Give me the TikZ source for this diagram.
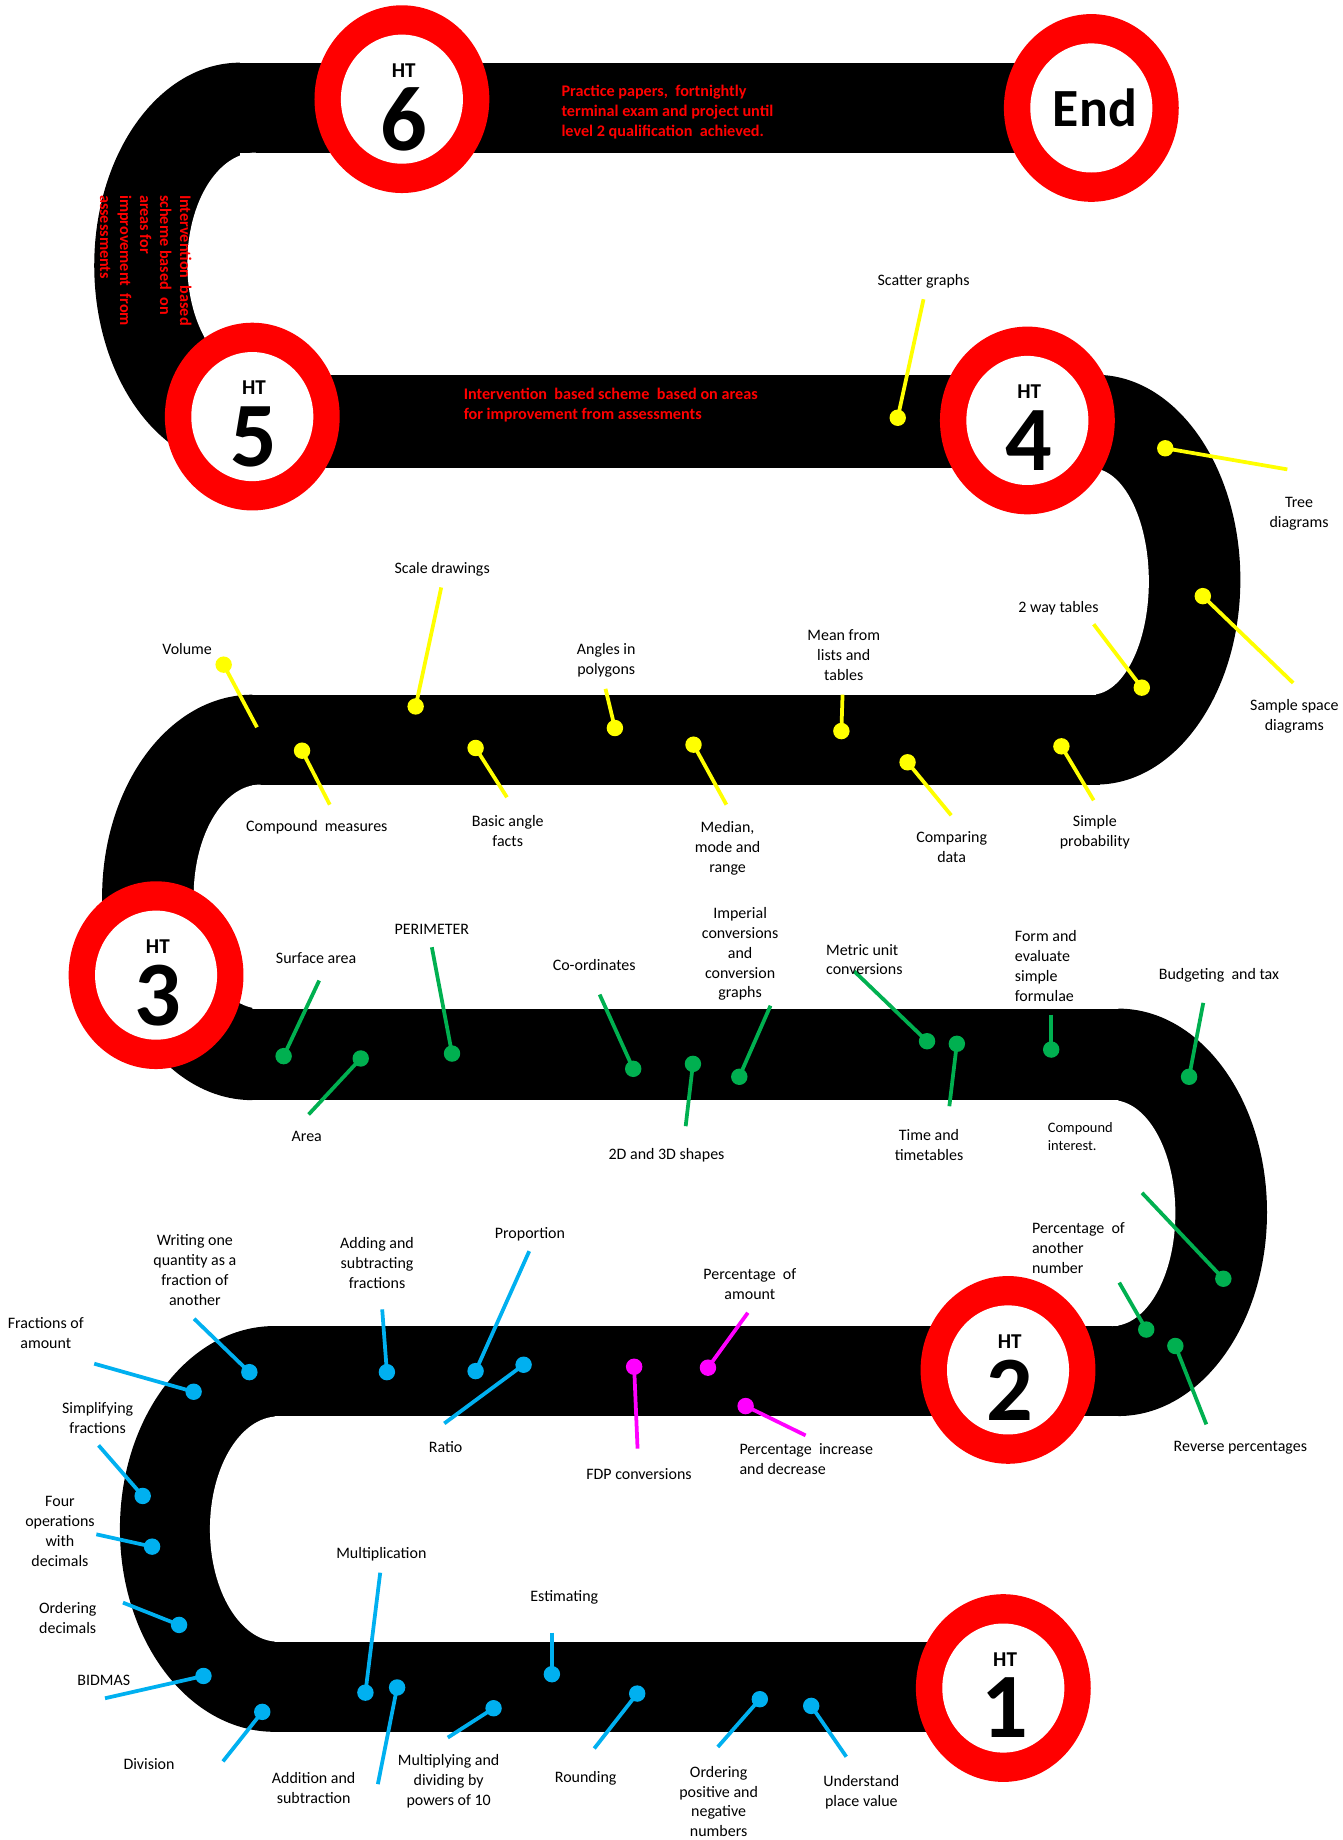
\documentclass[tikz,border=0pt]{standalone}
\usepackage{fontspec}
\setmainfont{Carlito}
\definecolor{yel}{RGB}{255,255,0}
\definecolor{grn}{RGB}{0,176,80}
\definecolor{blu}{RGB}{0,176,240}
\definecolor{mag}{RGB}{255,0,255}
\definecolor{rd}{RGB}{255,0,0}
\tikzset{
  lbl/.style={font=\fontsize{13.6}{17}\selectfont, align=center, inner sep=0pt, text=black},
  smalllbl/.style={font=\fontsize{12.3}{15.4}\selectfont},
  conn/.style={line width=3.2pt},
  dotn/.style={circle, minimum size=14pt, inner sep=0pt, draw=none},
  redtxt/.style={font=\bfseries\fontsize{13.8}{17}\selectfont, text=rd, align=left, inner sep=0pt},
  htsmall/.style={font=\bfseries\fontsize{18}{20}\selectfont, inner sep=0pt},
  htbig/.style={font=\bfseries\fontsize{78.5}{80}\selectfont, inner sep=0pt},
  endtxt/.style={font=\bfseries\fontsize{45.8}{50}\selectfont, inner sep=0pt}
}
\newcommand{\htring}[2]{%
  \fill[rd] (#2) ellipse [x radius=74.5, y radius=80];
  \fill[white] (#2) ellipse [x radius=52, y radius=55];
  \coordinate (#1) at (#2);}
\newcommand{\htsign}[3]{%
  \htring{#1}{#2}
  \node[htsmall] (#1a) at ([xshift=1.5pt, yshift=24.5pt]#1) {HT};
  \node[htbig] (#1b) at ([xshift=1.5pt, yshift=-17pt]#1) {#3};}
\newcommand{\mtopic}[7]{%
  \coordinate (#1e) at (#4);
  \node[dotn, fill=#2] (#1d) at (#3) {};
  \draw[conn, #2] (#1e) -- (#1d.center);
  \node[lbl, #6] (#1l) at (#5) {#7};}
\begin{document}
\begin{tikzpicture}[x=1pt, y=-1pt]
\useasboundingbox[fill=white] (0,0) rectangle (1144,1568);
% ---------- track ----------
\fill[black] (201.5,53.4) rectangle (930,130);
\fill[black] (201.5,319.4) rectangle (937,399);
\fill[black] (209,592) rectangle (937,668.6);
\fill[black] (212,859.5) rectangle (956,937.5);
\fill[black] (231,1130) rectangle (956,1206.7);
\fill[black] (231,1399) rectangle (855,1475.8);
\fill[black] (204.5,53.4) arc [start angle=270, end angle=90, x radius=124.2, y radius=172.8] -- cycle;
\fill[black] (934,319.4) arc [start angle=-90, end angle=90, x radius=123, y radius=174.6] -- cycle;
\fill[black] (215,592) arc [start angle=270, end angle=90, x radius=128, y radius=172.75] -- cycle;
\fill[black] (953,859.5) arc [start angle=-90, end angle=90, x radius=126.7, y radius=173.6] -- cycle;
\fill[black] (234,1130) arc [start angle=270, end angle=90, x radius=131.8, y radius=172.9] -- cycle;
\fill[white] (218,130) arc [start angle=270, end angle=90, x radius=58.4, y radius=94.7] -- cycle;
\fill[white] (930,399) arc [start angle=-90, end angle=90, x radius=49, y radius=96.5] -- cycle;
\fill[white] (222,668.6) arc [start angle=270, end angle=90, x radius=57, y radius=95.45] -- cycle;
\fill[white] (947.6,937.5) arc [start angle=-90, end angle=90, x radius=54, y radius=96.25] -- cycle;
\fill[white] (237.3,1207) arc [start angle=270, end angle=90, x radius=58.4, y radius=96] -- cycle;
% ---------- signs ----------
\htring{endr}{930,92}
\node[endtxt] (endt) at ([xshift=3pt]endr) {End};
\htsign{ht6}{342.5,84.5}{6}
\htsign{ht5}{215,355}{5}
\htsign{ht4}{875.5,358.3}{4}
\htsign{ht3}{133,831}{3}
\htsign{ht2}{859,1167.4}{2}
\htsign{ht1}{855,1438.5}{1}
% ---------- red notes ----------
\node[redtxt, anchor=north west] (rt1) at (478.3,72.3) {Practice papers,\ \ fortnightly\\terminal exam and project until\\level 2 qualification\ \ achieved.};
\node[redtxt, anchor=north west] (rt2) at (395,330.7) {Intervention\ \ based scheme\ \ based on areas\\for improvement from assessments};
\node[redtxt, anchor=north west, rotate=-90] (rt3) at (163.3,166) {Intervention\ \ based\\scheme based\ \ on\\areas for\\improvement\ \ from\\assessments};
% ---------- yellow topics ----------
\mtopic{sg}{yel}{765,356}{787,255}{787,240}{}{Scatter graphs}
\mtopic{td}{yel}{993,382}{1097,400}{1107,438}{}{Tree\\diagrams}
\mtopic{ss}{yel}{1025,508}{1102,582}{1103,610.5}{}{Sample space\\diagrams}
\mtopic{tw}{yel}{973,586}{932,532}{902,518}{}{2 way tables}
\mtopic{mf}{yel}{717,623}{718,592}{719,558}{}{Mean from\\lists and\\tables}
\mtopic{sp}{yel}{904.5,636}{932,682}{933,709}{}{Simple\\probability}
\mtopic{cd}{yel}{773.4,649.6}{810.6,694.8}{811,722}{}{Comparing\\data}
\mtopic{mm}{yel}{591,634.6}{619,685.7}{620,722.6}{}{Median,\\mode and\\range}
\mtopic{ap}{yel}{524,620.4}{516,587}{516.6,562.5}{}{Angles in\\polygons}
\mtopic{ba}{yel}{405.3,637.4}{432,679.4}{432.7,708}{}{Basic angle\\facts}
\mtopic{sd}{yel}{354.2,602}{376,500.6}{376.8,485}{}{Scale drawings}
\mtopic{vo}{yel}{190.6,566.4}{219,619.8}{159.5,552.8}{}{Volume}
\mtopic{cm}{yel}{257.4,639.7}{281,685.7}{270,704.7}{}{Compound\ \ measures}
% ---------- green topics ----------
\mtopic{sa}{grn}{241.7,900}{272,835.6}{269.4,816.3}{}{Surface area}
\mtopic{ar}{grn}{307.4,902}{263,949.7}{261.4,968.8}{}{Area}
\mtopic{pe}{grn}{385.2,897.8}{368,807.2}{368,791.6}{}{PERIMETER}
\mtopic{co}{grn}{539.6,910.8}{511,847.5}{506.4,822}{}{Co-ordinates}
\mtopic{sh}{grn}{590.5,906.6}{584.3,959.7}{568,984.7}{}{2D and 3D shapes}
\mtopic{im}{grn}{630,917.6}{656.6,857}{630.7,812.9}{}{Imperial\\conversions\\and\\conversion\\graphs}
\mtopic{mu}{grn}{790,887.3}{728,827.7}{703.8,817.7}{anchor=west, align=left}{Metric unit\\conversions}
\mtopic{tt}{grn}{815.4,889.5}{809,942.7}{791.7,976}{}{Time and\\timetables}
\mtopic{fe}{grn}{895.8,894.4}{895.8,864.6}{864.7,823.4}{anchor=west, align=left}{Form and\\evaluate\\simple\\formulae}
\mtopic{bt}{grn}{1013.3,917.6}{1025.4,854.6}{1038.8,831.3}{}{Budgeting\ \ and tax}
\mtopic{ci}{grn}{1042.5,1089.7}{973.2,1016.5}{892.8,968.2}{anchor=west, align=left, smalllbl}{Compound\\interest.}
\mtopic{pa}{grn}{976.8,1133}{953.8,1093}{879.3,1063.3}{anchor=west, align=left}{Percentage\ \ of\\another\\number}
\mtopic{rp}{grn}{1001.6,1147}{1028,1213.8}{1057,1233.7}{}{Reverse percentages}
% ---------- magenta topics ----------
\mtopic{pm}{mag}{603.3,1165.5}{637.3,1118.7}{639,1094.5}{}{Percentage\ \ of\\amount}
\mtopic{pi}{mag}{635.4,1198.2}{686.5,1223.2}{630,1243}{anchor=west, align=left}{Percentage\ \ increase\\and decrease}
\mtopic{fd}{mag}{540.4,1164.7}{543.3,1234.5}{544.5,1255.8}{}{FDP conversions}
% ---------- blue topics ----------
\mtopic{pr}{blu}{405.3,1168.4}{451,1066.2}{451.6,1051.4}{}{Proportion}
\mtopic{ra}{blu}{446.2,1163}{378.6,1213}{379.7,1232.8}{}{Ratio}
\mtopic{af}{blu}{329.7,1169.3}{325.7,1115.8}{321.3,1076}{}{Adding and\\subtracting\\fractions}
\mtopic{wq}{blu}{212.5,1169.3}{165.4,1123.8}{166.1,1082.1}{}{Writing one\\quantity as a\\fraction of\\another}
\mtopic{fa}{blu}{165,1186}{80.3,1162.1}{39,1135.7}{}{Fractions of\\amount}
\mtopic{sf}{blu}{121.6,1274.8}{84,1231.7}{83.2,1208.1}{}{Simplifying\\fractions}
\mtopic{fo}{blu}{129.6,1318}{82.1,1307.5}{51.1,1304.7}{}{Four\\operations\\with\\decimals}
\mtopic{od}{blu}{152.6,1384.7}{104.8,1365.7}{57.7,1378.5}{}{Ordering\\decimals}
\mtopic{bi}{blu}{173.4,1428.2}{89.5,1447.2}{88.4,1431.9}{}{BIDMAS}
\mtopic{dv}{blu}{223.5,1458.8}{190,1501}{127,1503.4}{}{Division}
\mtopic{as}{blu}{338.4,1438}{322,1520.4}{267.3,1523.3}{}{Addition and\\subtraction}
\mtopic{mt}{blu}{311.4,1442.4}{324,1340.2}{325,1324.5}{}{Multiplication}
\mtopic{mp}{blu}{420.6,1455.7}{381.6,1480.7}{382.3,1518}{}{Multiplying and\\dividing by\\powers of 10}
\mtopic{es}{blu}{470.3,1426.7}{470.3,1391.3}{480.9,1361.4}{}{Estimating}
\mtopic{ro}{blu}{543,1443.2}{506.4,1490}{499.1,1515.4}{}{Rounding}
\mtopic{op}{blu}{647.5,1448}{611.7,1488.7}{612.4,1535.2}{}{Ordering\\positive and\\negative\\numbers}
\mtopic{pv}{blu}{691.3,1453.7}{721.2,1497}{734,1527.5}{}{Understand\\place value}
\end{tikzpicture}
\end{document}
